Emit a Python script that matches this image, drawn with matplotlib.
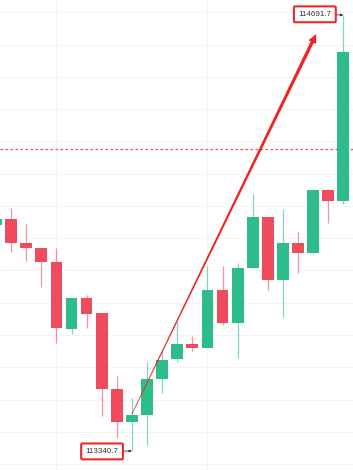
import matplotlib
matplotlib.use("Agg")
import matplotlib.pyplot as plt
import numpy as np
from matplotlib.patches import Polygon

# candle data
opens = [114041.0, 114059.6, 113985.2, 113969.7, 113926.3, 113718.7, 113814.8, 113768.3,
         113532.8, 113430.6, 113452.3, 113563.8, 113625.8, 113672.3, 113659.9, 113839.6,
         113737.3, 113907.8, 114065.8, 113870.6, 113985.2, 113954.2, 114149.4, 114115.4]
highs = [114075.1, 114093.7, 114044.1, 113969.7, 113969.7, 113814.8, 113824.1, 113768.3,
         113573.1, 113504.9, 113616.5, 113653.7, 113740.4, 113697.0, 113914.0, 113914.0,
         113923.2, 114137.1, 114065.8, 114090.6, 114019.3, 114149.4, 114149.4, 114691.7]
lows = [114031.7, 113957.3, 113929.4, 113848.9, 113675.4, 113703.2, 113721.8, 113449.2,
        113381.0, 113340.7, 113359.3, 113520.4, 113616.5, 113650.6, 113659.9, 113731.1,
        113628.9, 113907.8, 113839.6, 113755.9, 113892.3, 113954.2, 114047.2, 114106.1]
closes = [114059.6, 113985.2, 113969.7, 113926.3, 113721.8, 113814.8, 113765.2, 113532.8,
          113430.6, 113452.3, 113563.8, 113622.7, 113672.3, 113659.9, 113839.6, 113737.3,
          113907.8, 114065.8, 113870.6, 113985.2, 113954.2, 114149.4, 114115.4, 114577.1]

last_price = 114276.5
low_label = "113340.7"
high_label = "114691.7"
arrow_start = (9.0, 113455.4)
arrow_end = (21.2, 114632.8)

green = "#2dbd8b"
red = "#ef4b5c"

fig = plt.figure(figsize=(3.53, 4.70), dpi=100)
ax = fig.add_axes([0, 0, 1, 1])

x = np.arange(len(opens))
o = np.array(opens)
c = np.array(closes)
up = c >= o
colors = np.where(up, green, red)

# grid
for gy in np.arange(113300, 114800, 100):
    ax.axhline(gy, color="#f4f4f4", lw=0.7, zorder=0)
for gx in [4, 14]:
    ax.axvline(gx, color="#f4f4f4", lw=0.7, zorder=0)

ax.vlines(x, lows, highs, colors=colors, lw=0.9, alpha=0.6, zorder=2)
ax.bar(x, np.abs(c - o), bottom=np.minimum(o, c), width=0.78, color=colors, zorder=3)

# last price line
ax.axhline(last_price, color="#ee3b4f", lw=0.9, ls=(0, (2.0, 2.0)), alpha=0.9, zorder=1)

ax.set_xlim(0.265, 23.64)
ax.set_ylim(113281.8, 114738.2)
ax.axis("off")

# labels for high / low
box = dict(boxstyle="round,pad=0.55,rounding_size=0.15", fc="white", ec="#e82a2a", lw=1.5)
arr = dict(arrowstyle="-|>,head_length=0.25,head_width=0.12",
           color="#333333", lw=0.6, shrinkA=0, shrinkB=0)
ax.annotate(high_label, xy=(23, 114691.7), xytext=(-20.5, 0.5), textcoords="offset points",
            ha="center", va="center", fontsize=5.8, color="#333333", family="Liberation Sans",
            bbox=box, arrowprops=arr, zorder=5)
ax.annotate(low_label, xy=(9, 113340.7), xytext=(-21.5, -0.3), textcoords="offset points",
            ha="center", va="center", fontsize=5.8, color="#333333", family="Liberation Sans",
            bbox=box, arrowprops=arr, zorder=5)

# tapered red arrow
fig.canvas.draw()
p0 = ax.transData.transform(arrow_start)
p1 = ax.transData.transform(arrow_end)
d = p1 - p0
L = np.hypot(*d)
u = d / L
n = np.array([-u[1], u[0]])
head_len, head_w = 9.0, 4.2
base = p1 - u * head_len
w0, w1 = 0.35, 1.7
pts = [p0 + n * w0, base + n * w1, base + n * head_w, p1,
       base - n * head_w, base - n * w1, p0 - n * w0]
ax.add_patch(Polygon(pts, closed=True, transform=None, fc="#f0241e", ec="none", zorder=4))

fig.savefig("out.png", dpi=100)
